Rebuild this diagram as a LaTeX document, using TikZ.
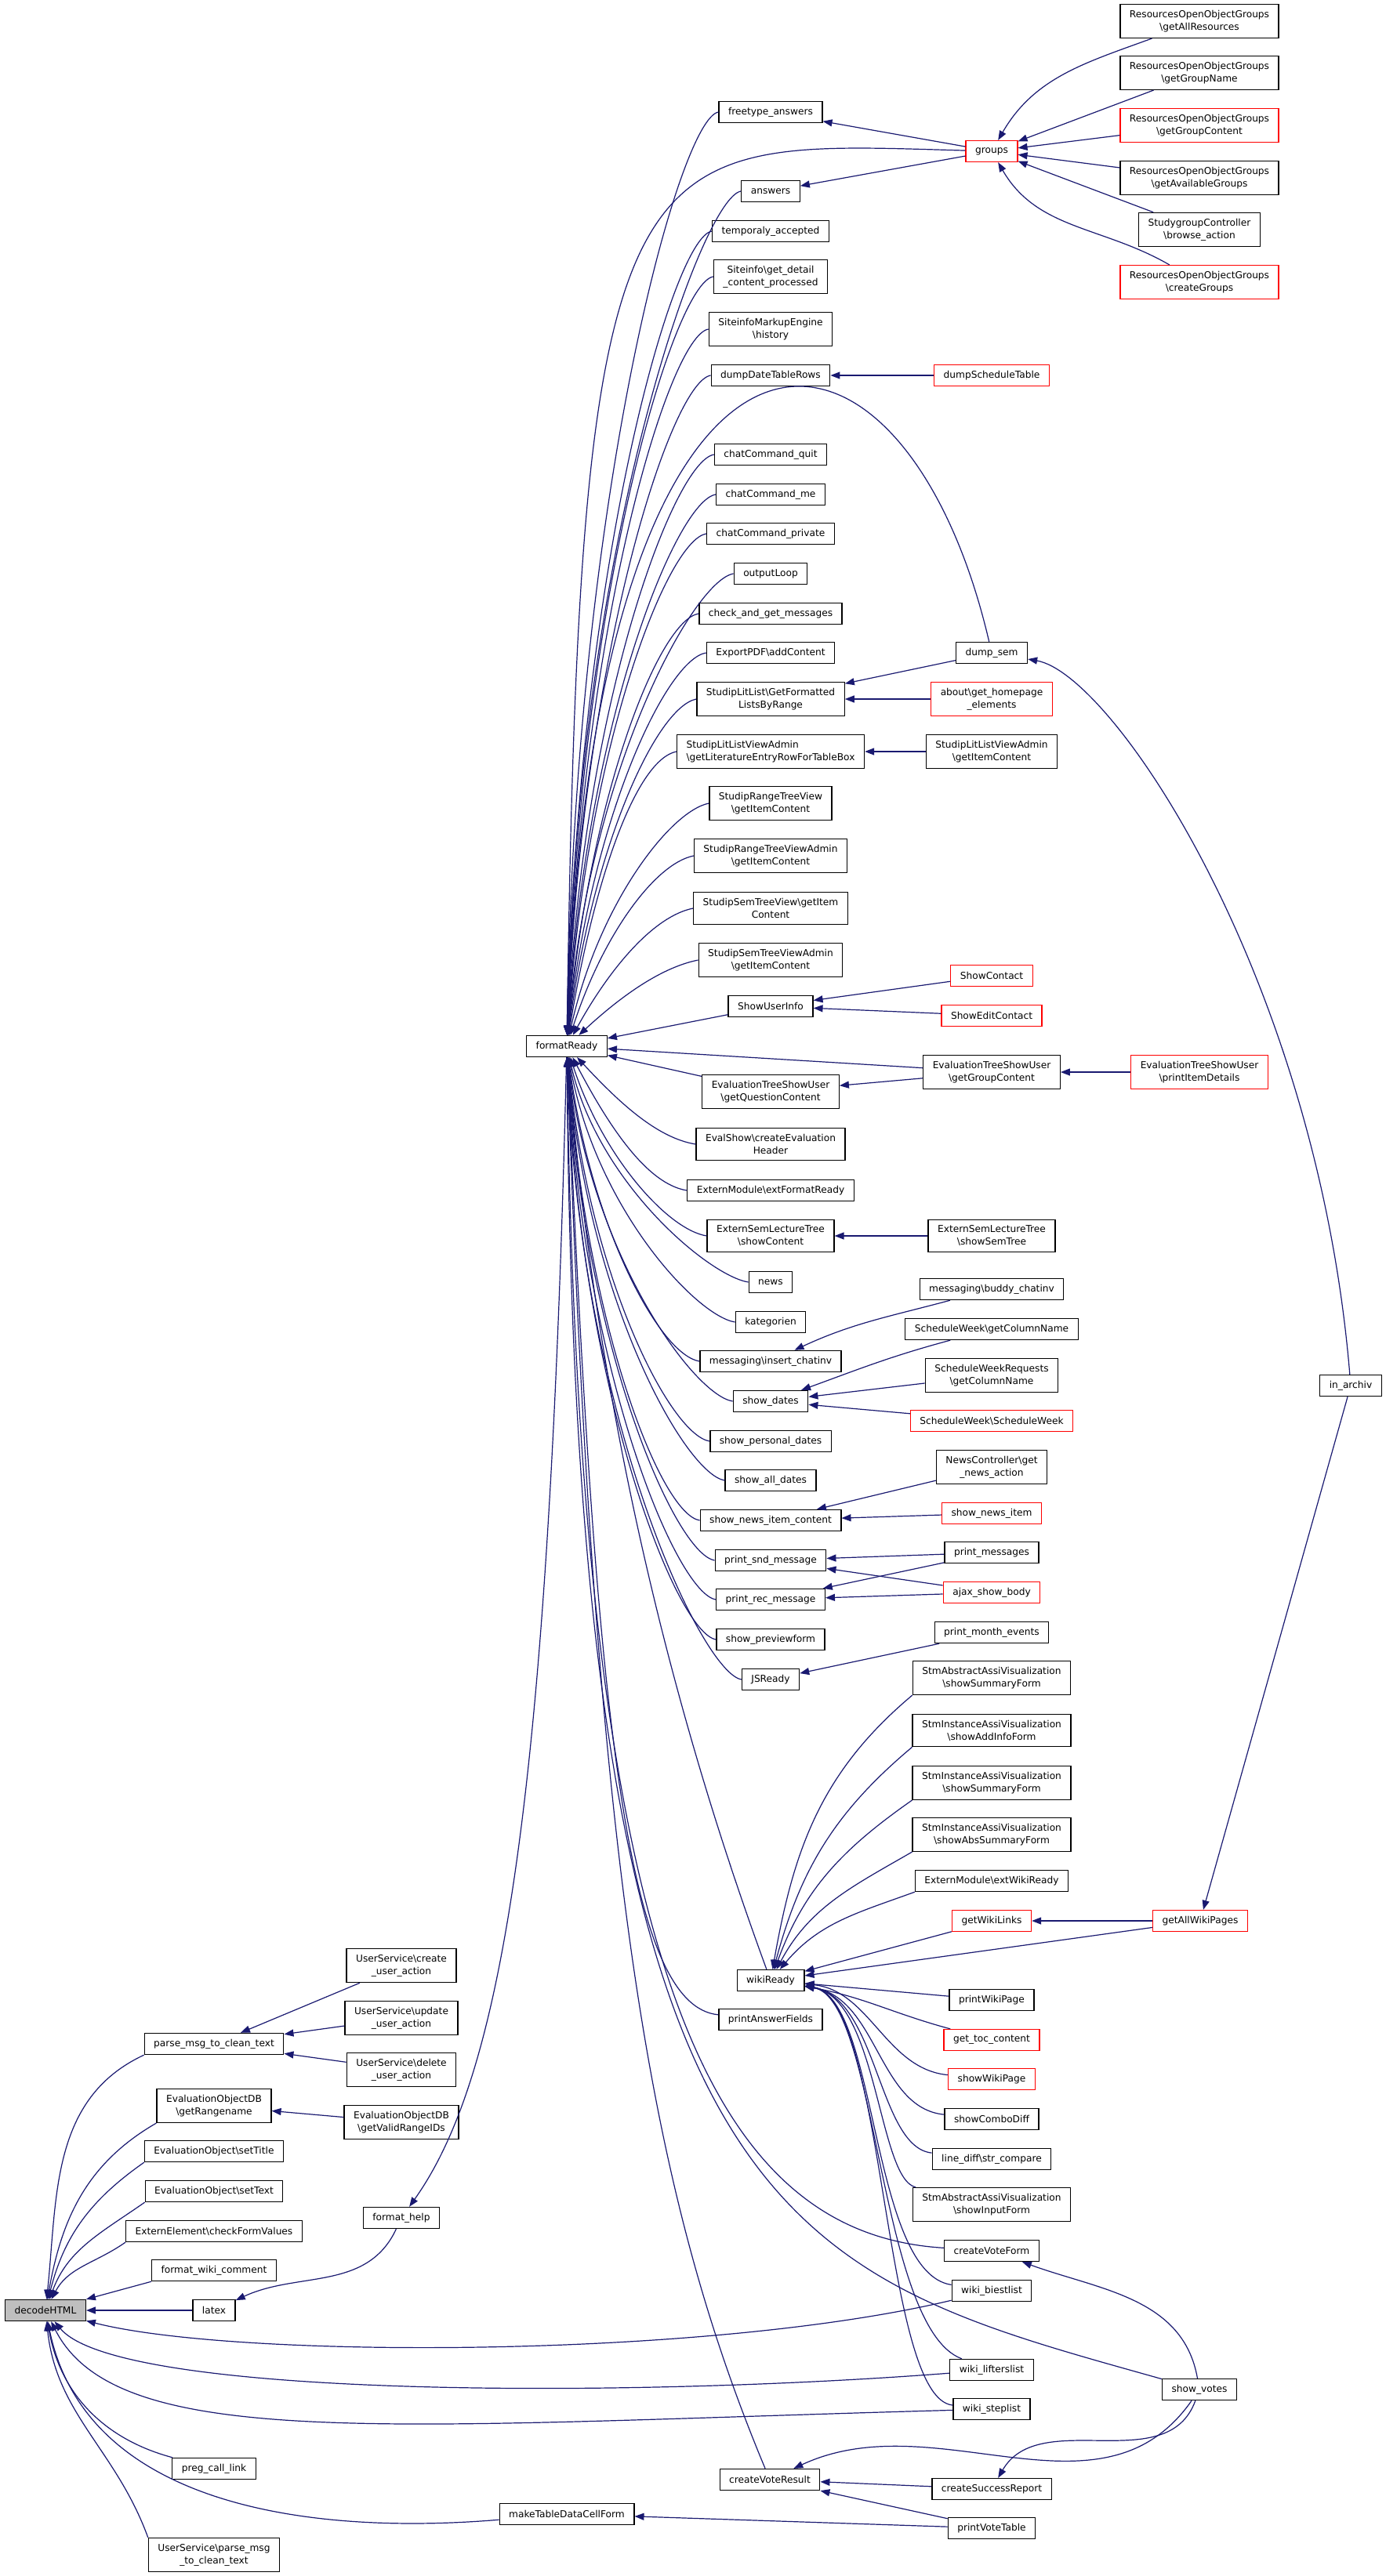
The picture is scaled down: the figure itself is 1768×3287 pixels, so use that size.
\documentclass[tikz,border=0pt]{standalone}
\usepackage{fontspec}
\setmainfont{DejaVu Sans}
\usetikzlibrary{arrows.meta}
\definecolor{edgeblue}{HTML}{191970}
\definecolor{boxred}{HTML}{FF0000}
\definecolor{focusgray}{HTML}{BFBFBF}
\newcommand{\bsl}{\textbackslash}

\begin{document}
\begin{tikzpicture}[
      x=1pt, y=-1pt,
      box/.style={rectangle, draw=black, line width=1.3pt, fill=white, align=center, inner xsep=12pt, inner ysep=7.5pt, minimum height=27pt, font=\fontsize{12.2}{16}\selectfont},
      redbox/.style={box, draw=boxred},
      focus/.style={box, fill=focusgray},
      arrow/.style={<-, >={Triangle[length=12pt,width=9pt]}, draw=edgeblue, line width=1.2pt}
    ]
      \useasboundingbox (0,0) rectangle (1768,3287);

      % the function itself
      \node[focus] (decodehtml) at (58,2948) {decodeHTML};

      % direct callers
      \node[box] (parsemsg) at (273,2608) {parse\_msg\_to\_clean\_text};
      \node[box] (rangename) at (273,2687) {EvaluationObjectDB\\\bsl getRangename};
      \node[box] (settitle) at (273,2745) {EvaluationObject\bsl setTitle};
      \node[box] (settext) at (273,2796) {EvaluationObject\bsl setText};
      \node[box] (checkform) at (273,2847) {ExternElement\bsl checkFormValues};
      \node[box] (wikicomment) at (273,2897) {format\_wiki\_comment};
      \node[box] (latex) at (273,2948) {latex};
      \node[box] (preglink) at (273,3150) {preg\_call\_link};
      \node[box] (usparse) at (273,3260) {UserService\bsl parse\_msg\\\_to\_clean\_text};

      \node[box] (uscreate) at (512,2508) {UserService\bsl create\\\_user\_action};
      \node[box] (usupdate) at (512,2575) {UserService\bsl update\\\_user\_action};
      \node[box] (usdelete) at (512,2641) {UserService\bsl delete\\\_user\_action};
      \node[box] (validrange) at (512,2708) {EvaluationObjectDB\\\bsl getValidRangeIDs};
      \node[box] (formathelp) at (512,2830) {format\_help};

      \node[box] (formatready) at (723,1335) {formatReady};
      \node[box] (maketable) at (723,3208) {makeTableDataCellForm};

      % callers of formatReady
      \node[box] (freetype) at (983,143) {freetype\_answers};
      \node[box] (answers) at (983,244) {answers};
      \node[box] (temporaly) at (983,295) {temporaly\_accepted};
      \node[box] (siteinfo) at (983,353) {Siteinfo\bsl get\_detail\\\_content\_processed};
      \node[box] (markup) at (983,420) {SiteinfoMarkupEngine\\\bsl history};
      \node[box] (dumprows) at (983,479) {dumpDateTableRows};
      \node[box] (quit) at (983,580) {chatCommand\_quit};
      \node[box] (me) at (983,631) {chatCommand\_me};
      \node[box] (private) at (983,681) {chatCommand\_private};
      \node[box] (outputloop) at (983,732) {outputLoop};
      \node[box] (checkmsg) at (983,783) {check\_and\_get\_messages};
      \node[box] (exportpdf) at (983,833) {ExportPDF\bsl addContent};
      \node[box] (litlist) at (983,892) {StudipLitList\bsl GetFormatted\\ListsByRange};
      \node[box, align=left] (litentry) at (983,959) {StudipLitListViewAdmin\\\bsl getLiteratureEntryRowForTableBox};
      \node[box] (rangetree) at (983,1025) {StudipRangeTreeView\\\bsl getItemContent};
      \node[box] (rangeadmin) at (983,1092) {StudipRangeTreeViewAdmin\\\bsl getItemContent};
      \node[box] (semtree) at (983,1159) {StudipSemTreeView\bsl getItem\\Content};
      \node[box] (semadmin) at (983,1225) {StudipSemTreeViewAdmin\\\bsl getItemContent};
      \node[box] (showuserinfo) at (983,1284) {ShowUserInfo};
      \node[box] (evalquestion) at (983,1393) {EvaluationTreeShowUser\\\bsl getQuestionContent};
      \node[box] (evalheader) at (983,1460) {EvalShow\bsl createEvaluation\\Header};
      \node[box] (extformat) at (983,1519) {ExternModule\bsl extFormatReady};
      \node[box] (lecturetree) at (983,1577) {ExternSemLectureTree\\\bsl showContent};
      \node[box] (news) at (983,1636) {news};
      \node[box] (kategorien) at (983,1687) {kategorien};
      \node[box] (insertchat) at (983,1737) {messaging\bsl insert\_chatinv};
      \node[box] (showdates) at (983,1788) {show\_dates};
      \node[box] (personaldates) at (983,1839) {show\_personal\_dates};
      \node[box] (alldates) at (983,1889) {show\_all\_dates};
      \node[box] (newsitemcontent) at (983,1940) {show\_news\_item\_content};
      \node[box] (sndmsg) at (983,1991) {print\_snd\_message};
      \node[box] (recmsg) at (983,2041) {print\_rec\_message};
      \node[box] (previewform) at (983,2092) {show\_previewform};
      \node[box] (jsready) at (983,2143) {JSReady};
      \node[box] (wikiready) at (983,2527) {wikiReady};
      \node[box] (printanswer) at (983,2577) {printAnswerFields};
      \node[box] (voteresult) at (982,3164) {createVoteResult};

      % second ring
      \node[redbox] (groups) at (1265,193) {groups};
      \node[redbox] (dumptable) at (1265,479) {dumpScheduleTable};
      \node[box] (dumpsem) at (1265,833) {dump\_sem};
      \node[redbox] (homepage) at (1265,892) {about\bsl get\_homepage\\\_elements};
      \node[box] (litadmin) at (1265,959) {StudipLitListViewAdmin\\\bsl getItemContent};
      \node[redbox] (showcontact) at (1265,1245) {ShowContact};
      \node[redbox] (showeditcontact) at (1265,1296) {ShowEditContact};
      \node[box] (evalgroup) at (1265,1368) {EvaluationTreeShowUser\\\bsl getGroupContent};
      \node[box] (semtreeshow) at (1265,1577) {ExternSemLectureTree\\\bsl showSemTree};
      \node[box] (buddychat) at (1265,1645) {messaging\bsl buddy\_chatinv};
      \node[box] (colname) at (1265,1696) {ScheduleWeek\bsl getColumnName};
      \node[box] (reqcolname) at (1265,1755) {ScheduleWeekRequests\\\bsl getColumnName};
      \node[redbox] (scheduleweek) at (1265,1813) {ScheduleWeek\bsl ScheduleWeek};
      \node[box] (newsaction) at (1265,1872) {NewsController\bsl get\\\_news\_action};
      \node[redbox] (newsitem) at (1265,1931) {show\_news\_item};
      \node[box] (printmsgs) at (1265,1981) {print\_messages};
      \node[redbox] (ajaxbody) at (1265,2032) {ajax\_show\_body};
      \node[box] (monthevents) at (1265,2083) {print\_month\_events};
      \node[box] (stmsummary) at (1265,2141) {StmAbstractAssiVisualization\\\bsl showSummaryForm};
      \node[box] (stmaddinfo) at (1265,2208) {StmInstanceAssiVisualization\\\bsl showAddInfoForm};
      \node[box] (stmsummarytwo) at (1265,2275) {StmInstanceAssiVisualization\\\bsl showSummaryForm};
      \node[box] (stmabssummary) at (1265,2341) {StmInstanceAssiVisualization\\\bsl showAbsSummaryForm};
      \node[box] (extwiki) at (1265,2400) {ExternModule\bsl extWikiReady};
      \node[redbox] (wikilinks) at (1265,2451) {getWikiLinks};
      \node[box] (printwikipage) at (1265,2552) {printWikiPage};
      \node[redbox] (toccontent) at (1265,2603) {get\_toc\_content};
      \node[redbox] (showwikipage) at (1265,2653) {showWikiPage};
      \node[box] (combodiff) at (1265,2704) {showComboDiff};
      \node[box] (strcompare) at (1265,2755) {line\_diff\bsl str\_compare};
      \node[box] (inputform) at (1265,2813) {StmAbstractAssiVisualization\\\bsl showInputForm};
      \node[box] (voteform) at (1265,2872) {createVoteForm};
      \node[box] (biestlist) at (1265,2923) {wiki\_biestlist};
      \node[box] (lifterslist) at (1265,3024) {wiki\_lifterslist};
      \node[box] (steplist) at (1265,3074) {wiki\_steplist};
      \node[box] (successreport) at (1265,3176) {createSuccessReport};
      \node[box] (votetable) at (1265,3226) {printVoteTable};

      % outer ring
      \node[box] (getallres) at (1530,27) {ResourcesOpenObjectGroups\\\bsl getAllResources};
      \node[box] (groupname) at (1530,93) {ResourcesOpenObjectGroups\\\bsl getGroupName};
      \node[redbox] (groupcontent) at (1530,160) {ResourcesOpenObjectGroups\\\bsl getGroupContent};
      \node[box] (availgroups) at (1530,227) {ResourcesOpenObjectGroups\\\bsl getAvailableGroups};
      \node[box] (browseaction) at (1530,293) {StudygroupController\\\bsl browse\_action};
      \node[redbox] (creategroups) at (1530,360) {ResourcesOpenObjectGroups\\\bsl createGroups};
      \node[redbox] (itemdetails) at (1530,1368) {EvaluationTreeShowUser\\\bsl printItemDetails};
      \node[redbox] (allwikipages) at (1531,2451) {getAllWikiPages};
      \node[box] (showvotes) at (1530,3049) {show\_votes};
      \node[box] (inarchiv) at (1723,1768) {in\_archiv};

      % calls into decodeHTML
      \draw[arrow] (decodehtml) to[out=84, in=205] (parsemsg.south west);
      \draw[arrow] (decodehtml) to[out=80, in=210] (rangename.south west);
      \draw[arrow] (decodehtml) to[out=76, in=215] (settitle.south west);
      \draw[arrow] (decodehtml) to[out=70, in=215] (settext.south west);
      \draw[arrow] (decodehtml) to[out=62, in=215] (checkform.south west);
      \draw[arrow] (decodehtml) -- (wikicomment.south west);
      \draw[arrow] (decodehtml) -- (latex);
      \draw[arrow] (decodehtml) .. controls (300,3010) and (900,3010) .. (biestlist);
      \draw[arrow] (decodehtml) .. controls (150,3060) and (800,3060) .. (lifterslist);
      \draw[arrow] (decodehtml) .. controls (150,3130) and (500,3095) .. (steplist);
      \draw[arrow] (decodehtml) to[out=-80, in=165] (preglink);
      \draw[arrow] (decodehtml) .. controls (110,3200) and (400,3235) .. (maketable);
      \draw[arrow] (decodehtml) to[out=-84, in=110] (usparse.north west);

      \draw[arrow] (parsemsg) -- (uscreate);
      \draw[arrow] (parsemsg) -- (usupdate);
      \draw[arrow] (parsemsg) -- (usdelete);
      \draw[arrow] (rangename) -- (validrange);
      \draw[arrow] (latex) to[out=25, in=-115] (formathelp);
      \draw[arrow] (formathelp) .. controls (640,2650) and (700,2300) .. (formatready);
      \draw[arrow] (maketable) -- (votetable);

      % calls into formatReady
      \draw[arrow] (formatready) .. controls +(10,-700) and +(-50,8) .. (freetype.west);
      \draw[arrow] (formatready) .. controls (740,150) and (800,180) .. (groups);
      \draw[arrow] (formatready) .. controls +(12,-640) and +(-50,8) .. (answers.west);
      \draw[arrow] (formatready) .. controls +(14,-610) and +(-50,8) .. (temporaly.west);
      \draw[arrow] (formatready) .. controls +(16,-580) and +(-50,8) .. (siteinfo.west);
      \draw[arrow] (formatready) .. controls +(18,-540) and +(-50,8) .. (markup.west);
      \draw[arrow] (formatready) .. controls +(20,-505) and +(-50,8) .. (dumprows.west);
      \draw[arrow] (formatready) .. controls (760,300) and (1150,340) .. (dumpsem);
      \draw[arrow] (formatready) .. controls +(22,-445) and +(-50,8) .. (quit.west);
      \draw[arrow] (formatready) .. controls +(24,-415) and +(-50,8) .. (me.west);
      \draw[arrow] (formatready) .. controls +(26,-385) and +(-50,8) .. (private.west);
      \draw[arrow] (formatready) .. controls +(28,-355) and +(-50,8) .. (outputloop.west);
      \draw[arrow] (formatready) .. controls +(30,-325) and +(-50,8) .. (checkmsg.west);
      \draw[arrow] (formatready) .. controls +(32,-295) and +(-50,8) .. (exportpdf.west);
      \draw[arrow] (formatready) .. controls +(34,-260) and +(-50,10) .. (litlist.west);
      \draw[arrow] (formatready) .. controls +(36,-220) and +(-50,10) .. (litentry.west);
      \draw[arrow] (formatready) .. controls +(40,-180) and +(-50,10) .. (rangetree.west);
      \draw[arrow] (formatready) .. controls +(45,-140) and +(-50,10) .. (rangeadmin.west);
      \draw[arrow] (formatready) .. controls +(55,-100) and +(-50,10) .. (semtree.west);
      \draw[arrow] (formatready) .. controls +(65,-60) and +(-50,10) .. (semadmin.west);
      \draw[arrow] (formatready) -- (showuserinfo);
      \draw[arrow] (formatready) -- (evalgroup);
      \draw[arrow] (formatready) -- (evalquestion);
      \draw[arrow] (formatready) .. controls +(65,70) and +(-50,-8) .. (evalheader.west);
      \draw[arrow] (formatready) .. controls +(55,105) and +(-50,-8) .. (extformat.west);
      \draw[arrow] (formatready) .. controls +(45,140) and +(-50,-8) .. (lecturetree.west);
      \draw[arrow] (formatready) .. controls +(40,175) and +(-50,-8) .. (news.west);
      \draw[arrow] (formatready) .. controls +(36,205) and +(-50,-8) .. (kategorien.west);
      \draw[arrow] (formatready) .. controls +(32,235) and +(-50,-8) .. (insertchat.west);
      \draw[arrow] (formatready) .. controls +(30,265) and +(-50,-8) .. (showdates.west);
      \draw[arrow] (formatready) .. controls +(28,295) and +(-50,-8) .. (personaldates.west);
      \draw[arrow] (formatready) .. controls +(26,325) and +(-50,-8) .. (alldates.west);
      \draw[arrow] (formatready) .. controls +(24,355) and +(-50,-8) .. (newsitemcontent.west);
      \draw[arrow] (formatready) .. controls +(22,385) and +(-50,-8) .. (sndmsg.west);
      \draw[arrow] (formatready) .. controls +(20,415) and +(-50,-8) .. (recmsg.west);
      \draw[arrow] (formatready) .. controls +(18,445) and +(-50,-8) .. (previewform.west);
      \draw[arrow] (formatready) .. controls +(16,475) and +(-50,-8) .. (jsready.west);
      \draw[arrow] (formatready) .. controls (770,1900) and (900,2300) .. (wikiready);
      \draw[arrow] (formatready) .. controls (760,2200) and (800,2560) .. (printanswer);
      \draw[arrow] (formatready) .. controls (740,2500) and (900,2850) .. (voteform);
      \draw[arrow] (formatready) .. controls (735,2850) and (1000,2900) .. (showvotes);
      \draw[arrow] (formatready) .. controls (760,2400) and (830,2800) .. (voteresult);

      % further up the call chain
      \draw[arrow] (freetype) -- (groups);
      \draw[arrow] (answers) -- (groups);
      \draw[arrow] (groups) to[out=60, in=200] (getallres);
      \draw[arrow] (groups) -- (groupname);
      \draw[arrow] (groups) -- (groupcontent);
      \draw[arrow] (groups) -- (availgroups);
      \draw[arrow] (groups) -- (browseaction);
      \draw[arrow] (groups) to[out=-60, in=150] (creategroups);
      \draw[arrow] (dumprows) -- (dumptable);
      \draw[arrow] (litlist) -- (dumpsem);
      \draw[arrow] (litlist) -- (homepage);
      \draw[arrow] (litentry) -- (litadmin);
      \draw[arrow] (dumpsem) .. controls (1420,860) and (1680,1250) .. (inarchiv);
      \draw[arrow] (showuserinfo) -- (showcontact);
      \draw[arrow] (showuserinfo) -- (showeditcontact);
      \draw[arrow] (evalquestion) -- (evalgroup);
      \draw[arrow] (evalgroup) -- (itemdetails);
      \draw[arrow] (lecturetree) -- (semtreeshow);
      \draw[arrow] (insertchat) to[out=25, in=195] (buddychat);
      \draw[arrow] (showdates) to[out=20, in=195] (colname);
      \draw[arrow] (showdates) -- (reqcolname);
      \draw[arrow] (showdates) -- (scheduleweek);
      \draw[arrow] (newsitemcontent) -- (newsaction);
      \draw[arrow] (newsitemcontent) -- (newsitem);
      \draw[arrow] (sndmsg) -- (printmsgs);
      \draw[arrow] (sndmsg) -- (ajaxbody);
      \draw[arrow] (recmsg) -- (printmsgs);
      \draw[arrow] (recmsg) -- (ajaxbody);
      \draw[arrow] (jsready) -- (monthevents);

      % callers of wikiReady
      \draw[arrow] (wikiready) to[out=80, in=220] (stmsummary.south west);
      \draw[arrow] (wikiready) to[out=75, in=220] (stmaddinfo.south west);
      \draw[arrow] (wikiready) to[out=70, in=215] (stmsummarytwo.south west);
      \draw[arrow] (wikiready) to[out=62, in=210] (stmabssummary.south west);
      \draw[arrow] (wikiready) to[out=50, in=200] (extwiki.south west);
      \draw[arrow] (wikiready) -- (wikilinks);
      \draw[arrow] (wikiready) -- (allwikipages);
      \draw[arrow] (wikiready) -- (printwikipage);
      \draw[arrow] (wikiready) to[out=-10, in=165] (toccontent);
      \draw[arrow] (wikiready) .. controls (1110,2540) and (1130,2640) .. (showwikipage);
      \draw[arrow] (wikiready) .. controls (1120,2550) and (1120,2690) .. (combodiff);
      \draw[arrow] (wikiready) .. controls (1120,2550) and (1120,2740) .. (strcompare);
      \draw[arrow] (wikiready) .. controls (1120,2550) and (1120,2780) .. (inputform);
      \draw[arrow] (wikiready) .. controls (1120,2550) and (1110,2900) .. (biestlist);
      \draw[arrow] (wikiready) .. controls (1120,2550) and (1120,2970) .. (lifterslist);
      \draw[arrow] (wikiready) .. controls (1130,2550) and (1125,3060) .. (steplist);
      \draw[arrow] (wikilinks) -- (allwikipages);
      \draw[arrow] (allwikipages) -- (inarchiv);

      % votes
      \draw[arrow] (voteform) to[out=-20, in=100] (showvotes);
      \draw[arrow] (voteresult) to[out=25, in=-125] (showvotes);
      \draw[arrow] (successreport) to[out=60, in=-110] (showvotes);
      \draw[arrow] (voteresult) -- (successreport);
      \draw[arrow] (voteresult) -- (votetable);
    \end{tikzpicture}
\end{document}
